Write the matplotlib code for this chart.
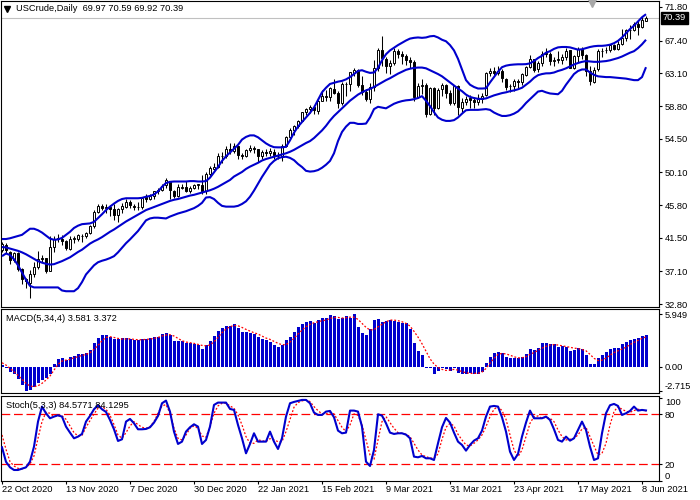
import matplotlib
matplotlib.use("Agg")
import matplotlib.pyplot as plt
import matplotlib.transforms as mtransforms
from matplotlib.lines import Line2D

plt.rcParams['font.family'] = ['Liberation Sans', 'DejaVu Sans']

# ---------------- data ----------------
date_labels = ["22 Oct 2020", "13 Nov 2020", "7 Dec 2020", "30 Dec 2020", "22 Jan 2021",
               "15 Feb 2021", "9 Mar 2021", "31 Mar 2021", "23 Apr 2021", "17 May 2021", "8 Jun 2021"]
date_label_bars = [0, 16, 32, 48, 64, 80, 96, 112, 128, 144, 160]

opens = [39.9, 40.6, 39.7, 38.6, 39.5, 37.4, 36.1, 35.6, 36.8, 37.7,
         38.8, 38.8, 37.2, 40.3, 41.4, 41.4, 41.1, 40.1, 41.3, 41.4,
         41.8, 41.7, 42.2, 43.1, 44.9, 45.7, 45.4, 45.5, 45.3, 44.5,
         45.3, 45.6, 46.2, 45.7, 45.6, 45.5, 46.8, 46.6, 47.0, 47.6,
         47.8, 48.4, 49.0, 47.7, 47.0, 48.1, 48.2, 47.6, 48.0, 48.4,
         48.5, 47.6, 49.9, 50.6, 50.8, 52.2, 52.2, 53.2, 52.9, 53.6,
         52.4, 52.3, 53.0, 53.3, 53.1, 52.3, 52.8, 52.6, 52.8, 52.3,
         52.2, 53.6, 54.8, 55.7, 56.2, 56.9, 58.0, 58.4, 58.7, 58.2,
         59.5, 60.1, 60.0, 61.1, 60.5, 59.2, 61.7, 61.7, 63.2, 63.5,
         61.5, 60.6, 59.7, 61.3, 63.8, 66.1, 65.0, 64.0, 64.4, 66.0,
         65.6, 65.4, 64.8, 64.6, 60.0, 61.4, 61.5, 57.8, 61.2, 58.6,
         61.0, 61.5, 60.5, 59.2, 61.4, 58.6, 59.3, 59.8, 59.6, 59.3,
         59.7, 60.2, 63.2, 63.4, 63.1, 63.4, 62.4, 61.4, 61.4, 62.1,
         61.9, 62.9, 63.9, 65.0, 63.6, 64.5, 65.7, 65.6, 64.7, 64.9,
         64.9, 65.3, 66.1, 63.8, 65.4, 66.3, 65.5, 63.4, 62.0, 63.6,
         66.0, 66.1, 66.2, 66.8, 66.3, 66.9, 67.7, 68.8, 68.8, 69.6,
         69.2, 69.97]
highs = [40.9, 40.8, 39.8, 39.7, 39.6, 37.6, 36.3, 37.3, 38.3, 39.8,
         39.2, 38.9, 41.8, 41.7, 42.0, 41.9, 41.2, 41.8, 41.8, 42.0,
         42.0, 42.3, 43.2, 45.2, 46.0, 45.9, 46.0, 45.8, 46.0, 45.4,
         46.1, 46.6, 46.5, 45.9, 46.2, 46.9, 47.3, 47.3, 47.7, 48.0,
         48.6, 49.3, 49.0, 47.8, 48.6, 48.6, 48.9, 48.3, 48.6, 48.6,
         49.8, 50.2, 50.9, 51.3, 52.7, 52.8, 53.5, 53.9, 53.9, 53.6,
         52.6, 53.2, 53.7, 53.6, 53.2, 53.0, 53.1, 53.3, 53.1, 52.8,
         53.8, 54.9, 55.9, 56.3, 57.0, 58.0, 58.6, 58.9, 58.9, 59.8,
         60.9, 60.9, 61.3, 62.3, 60.8, 61.9, 62.0, 63.3, 63.8, 63.7,
         62.8, 61.0, 61.8, 64.9, 66.4, 67.98, 65.3, 64.8, 66.4, 66.3,
         66.0, 65.6, 65.3, 64.8, 61.8, 62.3, 61.8, 61.3, 61.3, 61.2,
         61.8, 61.7, 60.9, 61.6, 61.5, 59.8, 60.1, 60.2, 60.0, 60.4,
         60.5, 63.3, 63.8, 63.9, 64.0, 63.7, 62.5, 61.7, 62.3, 62.3,
         63.1, 64.0, 65.5, 65.0, 64.7, 66.0, 66.4, 65.9, 65.2, 66.0,
         65.6, 66.4, 66.1, 65.5, 66.5, 66.5, 65.6, 64.1, 63.9, 66.3,
         66.4, 66.6, 67.0, 67.0, 67.4, 68.9, 68.9, 69.4, 69.8, 70.0,
         70.5, 70.59]
lows = [39.6, 39.5, 38.1, 38.4, 37.2, 35.4, 34.9, 33.6, 36.4, 37.4,
        38.3, 36.9, 37.1, 39.6, 41.0, 40.6, 39.9, 39.9, 40.8, 41.1,
        40.9, 41.5, 42.0, 42.8, 44.7, 45.1, 44.8, 44.4, 43.8, 43.6,
        44.8, 45.4, 45.4, 45.1, 45.1, 45.3, 46.2, 46.5, 46.6, 47.2,
        47.7, 48.0, 46.6, 46.7, 46.9, 47.9, 47.5, 47.4, 47.9, 47.9,
        47.2, 47.2, 49.5, 50.4, 50.7, 51.3, 52.0, 52.5, 52.6, 51.9,
        51.9, 52.1, 52.8, 52.6, 51.5, 51.8, 52.2, 52.3, 51.8, 51.8,
        51.6, 53.4, 54.5, 55.0, 55.9, 56.8, 57.6, 57.9, 57.7, 57.8,
        59.4, 59.5, 59.5, 60.4, 58.6, 58.9, 60.1, 60.8, 62.7, 61.3,
        60.2, 59.5, 59.2, 60.8, 63.4, 64.0, 63.1, 63.0, 64.2, 65.1,
        64.3, 64.2, 63.8, 59.5, 59.8, 60.4, 57.3, 57.6, 57.6, 58.4,
        60.1, 59.9, 58.9, 58.9, 57.6, 58.0, 58.9, 58.6, 58.6, 58.9,
        59.2, 60.1, 62.8, 62.9, 62.9, 61.9, 60.9, 60.7, 60.8, 61.0,
        61.6, 62.7, 63.8, 63.3, 63.3, 64.1, 65.2, 64.2, 64.0, 64.5,
        64.3, 64.8, 63.8, 63.6, 64.6, 65.0, 62.8, 61.6, 61.8, 63.4,
        65.3, 65.7, 65.9, 66.1, 66.1, 66.8, 67.4, 67.6, 68.7, 68.1,
        69.0, 69.92]
closes = [40.64, 39.85, 38.56, 39.57, 37.39, 36.17, 35.79, 36.81, 37.66, 38.79,
          38.79, 37.14, 40.29, 41.36, 41.45, 41.12, 40.13, 41.34, 41.43, 41.82,
          41.74, 42.15, 43.06, 44.91, 45.71, 45.40, 45.53, 45.34, 44.55, 45.28,
          45.64, 46.26, 45.76, 45.60, 45.52, 46.78, 46.57, 46.99, 47.62, 47.82,
          48.36, 49.10, 47.74, 47.02, 48.12, 48.23, 47.62, 48.00, 48.40, 48.52,
          47.62, 49.93, 50.63, 50.83, 52.24, 52.25, 53.21, 52.91, 53.57, 52.36,
          52.30, 52.98, 53.31, 53.13, 52.27, 52.77, 52.61, 52.85, 52.34, 52.20,
          53.55, 54.76, 55.69, 56.23, 56.85, 57.97, 58.36, 58.68, 58.24, 59.47,
          60.10, 60.05, 61.14, 60.52, 59.24, 61.70, 61.67, 63.22, 63.53, 61.50,
          60.64, 59.75, 61.28, 63.83, 66.09, 65.05, 64.01, 64.44, 66.02, 65.61,
          65.39, 64.80, 64.60, 60.00, 61.42, 61.55, 57.76, 61.18, 58.56, 60.97,
          61.56, 60.55, 59.16, 61.45, 58.65, 59.33, 59.77, 59.60, 59.32, 59.70,
          60.18, 63.15, 63.46, 63.13, 63.38, 62.44, 61.35, 61.43, 62.14, 61.91,
          62.94, 63.86, 65.01, 63.58, 64.49, 65.69, 65.63, 64.71, 64.90, 64.92,
          65.28, 66.08, 63.82, 65.37, 66.27, 65.49, 63.36, 62.05, 63.58, 66.05,
          66.07, 66.21, 66.85, 66.32, 66.90, 67.72, 68.83, 68.81, 69.62, 69.23,
          70.05, 70.39]

bb_upper = [41.35, 41.35, 41.45, 41.6, 41.75, 41.9, 42.3, 42.7, 42.7, 42.5,
            42.2, 41.8, 41.4, 41.25, 41.3, 41.5, 41.9, 42.3, 42.8, 43.1,
            43.3, 43.35, 43.4, 43.6, 44.1, 44.6, 45.15, 45.6, 46.0, 46.35,
            46.6, 46.7, 46.7, 46.7, 46.7, 46.75, 46.9, 47.0, 47.2, 47.6,
            48.2, 48.7, 48.85, 48.9, 48.9, 48.9, 48.9, 48.95, 48.95, 48.9,
            48.9, 48.95, 49.4, 50.1, 50.8, 51.6, 52.2, 52.7, 53.2, 53.7,
            54.4, 54.75, 54.95, 54.95, 54.7, 54.3, 53.9, 53.6, 53.4, 53.38,
            53.38, 53.45, 54.3, 55.3, 56.1, 56.7, 57.3, 57.9, 58.6, 59.6,
            60.6, 61.2, 61.7, 61.85, 62.0, 62.1, 62.3, 62.6, 63.0, 63.4,
            63.5, 63.3, 63.15, 63.2, 63.8, 64.8, 65.6, 66.1, 66.45, 66.8,
            67.1, 67.4, 67.65, 67.75, 67.8, 67.75, 67.8, 67.95, 68.0, 67.8,
            67.5, 67.3, 66.8, 66.1, 65.0, 63.6, 62.2, 61.6, 61.3, 61.1,
            61.1, 61.13, 61.9, 62.6, 63.3, 63.9, 64.1, 64.2, 64.25, 64.28,
            64.28, 64.3, 64.4, 64.7, 65.1, 65.4, 65.8, 66.0, 66.3, 66.5,
            66.55, 66.55, 66.5, 66.35, 66.2, 66.25, 66.4, 66.55, 66.65, 66.7,
            66.7, 66.75, 66.85, 67.05, 67.35, 67.8, 68.35, 68.9, 69.35, 69.9,
            70.45, 70.85]
bb_middle = [40.3, 40.25, 40.1, 39.95, 39.8, 39.6, 39.35, 39.05, 38.75, 38.45,
             38.25, 38.1, 38.0, 38.05, 38.25, 38.45, 38.7, 38.95, 39.3, 39.65,
             39.95, 40.35, 40.75, 41.05, 41.3, 41.6, 41.95, 42.3, 42.6, 42.95,
             43.3, 43.65, 43.95, 44.25, 44.55, 44.85, 45.15, 45.35, 45.55, 45.75,
             45.95, 46.15, 46.35, 46.5, 46.6, 46.75, 46.9, 47.05, 47.15, 47.3,
             47.45, 47.6, 47.75, 47.95, 48.2, 48.5, 48.8, 49.1, 49.55, 49.85,
             50.15, 50.55, 50.85, 51.1, 51.35, 51.65, 51.85, 52.0, 52.15, 52.3,
             52.45, 52.6, 52.8, 53.05, 53.35, 53.65, 53.95, 54.2, 54.6, 55.1,
             55.6, 56.2, 56.9, 57.5, 58.0, 58.5, 59.0, 59.5, 59.9, 60.3,
             60.6, 60.85, 61.05, 61.3, 61.6, 61.9, 62.2, 62.45, 62.75, 63.05,
             63.3, 63.55, 63.7, 63.8, 63.85, 63.85, 63.75, 63.5, 63.25, 63.0,
             62.7, 62.3, 61.9, 61.5, 61.1, 60.75, 60.3, 60.0, 59.85, 59.75,
             59.73, 59.8, 60.0, 60.2, 60.35, 60.5, 60.6, 60.75, 60.85, 61.0,
             61.2, 61.6, 62.0, 62.5, 62.85, 63.0, 63.09, 63.1, 63.2, 63.4,
             63.55, 63.75, 64.0, 64.25, 64.45, 64.6, 64.7, 64.65, 64.6, 64.6,
             64.65, 64.7, 64.8, 64.95, 65.1, 65.3, 65.55, 65.8, 66.0, 66.4,
             66.9, 67.5]
bb_lower = [39.1, 39.45, 39.25, 38.7, 37.9, 36.95, 36.0, 35.2, 35.0, 35.0,
            35.0, 35.0, 35.0, 35.0, 35.0, 34.6, 34.5, 34.5, 34.5, 34.9,
            35.7, 36.7, 37.3, 37.9, 38.3, 38.5, 38.65, 38.85, 39.1, 39.6,
            40.2, 40.8, 41.3, 41.85, 42.4, 43.1, 43.8, 44.05, 44.15, 44.15,
            44.1, 44.05, 44.3, 44.5, 44.7, 44.85, 45.0, 45.2, 45.4, 45.7,
            46.1, 46.8, 46.85, 46.6, 46.1, 45.7, 45.6, 45.6, 45.6, 45.7,
            45.95, 46.3, 46.9, 47.7, 48.6, 49.5, 50.3, 51.1, 51.6, 51.95,
            52.1, 52.15, 52.0, 51.7, 51.2, 50.8, 50.3, 50.2, 50.25, 50.4,
            50.7, 51.1, 51.6, 52.6, 54.2, 55.4, 56.1, 56.6, 56.6, 56.45,
            56.45, 56.5, 57.3, 58.4, 58.7, 58.6, 58.5, 58.8, 59.1, 59.3,
            59.45, 59.55, 59.6, 59.7, 59.85, 60.1, 59.5, 58.8, 58.0, 57.3,
            57.0, 56.85, 56.85, 56.95, 57.3, 57.8, 58.25, 58.3, 58.3, 58.3,
            58.35, 58.4, 58.3, 57.95, 57.7, 57.5, 57.5, 57.6, 57.8, 58.1,
            58.6, 59.2, 59.7, 60.2, 60.7, 60.8, 60.6, 60.45, 60.4, 60.35,
            60.8, 61.6, 62.3, 63.0, 63.4, 63.6, 63.6, 63.2, 62.9, 62.7,
            62.65, 62.6, 62.6, 62.55, 62.5, 62.45, 62.4, 62.3, 62.2, 62.2,
            62.6, 63.9]

macd_hist = [0.19, -0.11, -0.56, -0.83, -1.39, -2.07, -2.71, -2.64, -2.26, -1.88,
             -1.51, -1.32, -0.83, 0.30, 0.83, 0.94, 0.75, 1.05, 1.21, 1.39,
             1.43, 1.51, 1.88, 2.71, 3.20, 3.54, 3.58, 3.39, 3.13, 3.09,
             3.20, 3.20, 3.13, 3.01, 3.01, 3.13, 3.13, 3.20, 3.31, 3.39,
             3.65, 3.84, 3.58, 2.94, 2.94, 2.94, 2.71, 2.64, 2.56, 2.45,
             2.00, 2.45, 2.94, 3.47, 4.03, 4.33, 4.60, 4.63, 4.78, 4.41,
             3.88, 3.88, 3.84, 3.65, 3.31, 3.13, 3.01, 2.82, 2.45, 2.26,
             2.45, 3.01, 3.39, 3.88, 4.44, 4.82, 5.01, 5.12, 4.97, 5.27,
             5.46, 5.46, 5.90, 5.72, 5.35, 5.46, 5.76, 5.46, 5.949, 4.52,
             3.77, 3.58, 4.22, 5.27, 5.35, 5.08, 5.20, 5.27, 5.20, 5.08,
             4.90, 4.90, 4.22, 2.64, 1.81, 1.32, -0.11, -0.19, -0.83, -0.45,
             -0.19, -0.23, -0.45, -0.11, -0.68, -0.83, -0.83, -0.75, -0.83, -0.83,
             -0.56, 0.38, 1.13, 1.58, 1.70, 1.58, 1.05, 0.94, 0.94, 0.94,
             1.13, 1.43, 1.96, 1.88, 2.07, 2.64, 2.64, 2.56, 2.56, 2.26,
             2.34, 2.26, 1.81, 1.88, 2.15, 1.96, 1.32, 0.30, 0.30, 0.94,
             1.32, 1.62, 1.96, 2.07, 2.07, 2.52, 2.82, 3.05, 3.15, 3.30,
             3.42, 3.581]
macd_signal = [0.45, 0.19, -0.19, -0.56, -0.98, -1.43, -1.88, -2.18, -2.26, -2.15,
               -1.88, -1.51, -1.05, -0.38, 0.26, 0.64, 0.75, 0.83, 1.02, 1.13,
               1.28, 1.39, 1.58, 1.96, 2.41, 2.94, 3.31, 3.39, 3.31, 3.20,
               3.13, 3.13, 3.16, 3.09, 3.05, 3.05, 3.09, 3.13, 3.20, 3.31,
               3.47, 3.58, 3.62, 3.47, 3.20, 2.94, 2.79, 2.71, 2.64, 2.52,
               2.41, 2.37, 2.45, 2.82, 3.31, 3.84, 4.26, 4.52, 4.67, 4.63,
               4.44, 4.22, 4.03, 3.84, 3.69, 3.47, 3.24, 3.09, 2.86, 2.64,
               2.49, 2.49, 2.79, 3.20, 3.69, 4.14, 4.52, 4.78, 4.97, 5.08,
               5.20, 5.27, 5.46, 5.57, 5.57, 5.50, 5.54, 5.60, 5.60, 5.35,
               4.90, 4.45, 4.15, 4.20, 4.50, 4.80, 5.08, 5.27, 5.27, 5.20,
               5.08, 4.90, 4.60, 4.00, 3.35, 2.60, 1.75, 0.90, 0.30, -0.08,
               -0.30, -0.42, -0.38, -0.30, -0.38, -0.56, -0.68, -0.75, -0.75, -0.75,
               -0.60, -0.20, 0.40, 0.95, 1.40, 1.50, 1.45, 1.30, 1.13, 1.00,
               1.02, 1.13, 1.40, 1.60, 1.85, 2.10, 2.30, 2.45, 2.50, 2.45,
               2.37, 2.30, 2.20, 2.10, 2.05, 1.95, 1.80, 1.40, 0.95, 0.70,
               0.75, 0.98, 1.30, 1.60, 1.80, 2.00, 2.20, 2.50, 2.75, 2.98,
               3.20, 3.372]

stoch_main = [40.4, 23, 16.4, 13.2, 13.2, 14.8, 16.4, 23.2, 41.2, 71.2,
              89.2, 81.2, 75.2, 77.2, 78.8, 77.2, 65.2, 58, 51.2, 53.2,
              56.4, 71.2, 78, 86, 90.8, 86, 82.8, 73.2, 62, 48,
              50, 71.2, 74.4, 69.2, 62, 62, 62.4, 64.4, 70, 78,
              93.2, 96.4, 83.2, 59.2, 44.4, 47.2, 59.2, 64.4, 68, 65.2,
              44.4, 49.2, 65.2, 91.2, 94, 94, 94, 86.4, 85.2, 67.2,
              51.2, 33.2, 44.4, 57.2, 47.2, 47.2, 47.2, 59.2, 47.2, 38.4,
              51.2, 77.2, 93.2, 94.8, 96, 97.2, 97.2, 93.2, 82, 79.2,
              79.2, 83.2, 84, 76.4, 60.4, 57.2, 58, 84.4, 84.4, 83.2,
              65.2, 23.2, 18, 37.2, 80, 78.4, 69.2, 58, 56.4, 57.2,
              57.2, 55.6, 51.2, 29.2, 28.4, 30, 27.2, 27.2, 25.2, 45.2,
              64.4, 75.6, 70, 58, 47.2, 43.2, 36.4, 43.2, 48.4, 51.2,
              60.4, 77.2, 89.2, 90, 89.2, 76.4, 59.2, 35.2, 25.2, 32.4,
              53.2, 70, 84.4, 75.2, 75.2, 75.2, 77.2, 73.2, 62, 49.2,
              47.2, 53.2, 48.4, 51.2, 61.2, 71.2, 61.2, 41.2, 25.2, 27.2,
              57.2, 81.2, 90.8, 92.4, 90, 79.2, 81.2, 84, 89.2, 84.4,
              85.2, 84.5771]
stoch_signal = [55.2, 38, 23.2, 18, 15.2, 14.4, 16.4, 20.4, 30, 51.2,
                71.2, 82.4, 81.2, 77.2, 78, 78, 74, 66, 58, 54,
                54.8, 64.4, 72.4, 80.4, 87.2, 89.2, 86, 78.8, 67.6, 55.2,
                51.2, 58, 66, 71.2, 67.6, 64.4, 63.2, 65.2, 71.2, 81.2,
                90, 91.6, 81.2, 63.2, 51.2, 49.2, 55.2, 63.2, 66, 63.2,
                54, 52.4, 65.2, 81.2, 90, 93.2, 93.2, 90, 87.2, 79.2,
                67.2, 53.2, 45.2, 45.2, 49.2, 48.4, 47.2, 50.8, 49.2, 47.2,
                47.2, 59.2, 74, 88.4, 94, 96, 97.2, 95.2, 89.2, 84.4,
                80.4, 80.4, 82, 80.4, 72.4, 64.4, 59.2, 67.2, 80.4, 78.8,
                67.2, 49.2, 31.2, 26, 49.2, 71.2, 77.2, 70, 63.2, 58,
                57.2, 56, 53.2, 45.2, 37.2, 31.2, 29.2, 27.6, 27.2, 32.4,
                50, 64.4, 69.2, 66, 56, 49.2, 43.2, 42, 45.2, 49.2,
                55.2, 65.2, 77.2, 86, 89.2, 84.4, 74, 55.2, 37.2, 29.2,
                37.2, 53.2, 69.2, 77.2, 78, 75.2, 76.4, 75.2, 71.2, 61.2,
                53.2, 49.2, 50, 51.2, 55.2, 62.4, 64.4, 53.2, 42, 31.2,
                33.2, 45.2, 67.2, 83.2, 89.2, 86, 83.6, 82.4, 84.4, 86,
                85.2, 84.1295]

price_ticks = [71.80, 67.40, 63.10, 58.80, 54.50, 50.10, 45.80, 41.50, 37.10, 32.80]
macd_ticks = [5.949, 0.0, -2.715]
macd_tick_labels = ["5.949", "0.00", "-2.715"]
stoch_ticks = [100, 80, 20, 0]
stoch_levels = [80, 20]
last_price = 70.39
title_text = "USCrude,Daily  69.97 70.59 69.92 70.39"
macd_text = "MACD(5,34,4) 3.581 3.372"
stoch_text = "Stoch(5,3,3) 84.5771 84.1295"

# ---------------- layout ----------------
W, H = 700, 500
BLUE = '#0000CD'
FS = 6.7

fig = plt.figure(figsize=(7, 5), dpi=100)
fig.patch.set_facecolor('white')


def rect(x0, y0, x1, y1):
    return [x0 / W, 1 - y1 / H, (x1 - x0) / W, (y1 - y0) / H]


ax_p = fig.add_axes(rect(1, 0.5, 659, 306.7))
ax_m = fig.add_axes(rect(1, 309.3, 659, 393))
ax_s = fig.add_axes(rect(1, 396, 659, 481))

n = len(closes)
xs = list(range(n))

for ax in (ax_p, ax_m, ax_s):
    ax.set_xlim(-0.25, 164.25)
    ax.set_facecolor('white')
    for sp in ax.spines.values():
        sp.set_color('black')
        sp.set_linewidth(0.8)
    ax.yaxis.tick_right()
    ax.tick_params(axis='y', direction='out', length=2.2, width=0.8, pad=2,
                   labelsize=FS, colors='black')

# ---- price panel ----
ax_p.set_ylim(32.47, 72.65)
ax_p.axhline(last_price, color='#C0C0C0', lw=0.8, zorder=1)
ax_p.vlines(xs, lows, highs, color='black', lw=0.75, zorder=2)
up_x = [i for i in xs if closes[i] >= opens[i]]
dn_x = [i for i in xs if closes[i] < opens[i]]
ax_p.bar(up_x, [closes[i] - opens[i] for i in up_x], bottom=[opens[i] for i in up_x],
         width=0.5, facecolor='white', edgecolor='black', linewidth=0.7, zorder=3)
ax_p.bar(dn_x, [closes[i] - opens[i] for i in dn_x], bottom=[opens[i] for i in dn_x],
         width=0.5, facecolor='black', edgecolor='black', linewidth=0.7, zorder=3)
for band in (bb_upper, bb_middle, bb_lower):
    ax_p.plot(xs, band, color=BLUE, lw=1.5, zorder=4, solid_capstyle='butt')
ax_p.set_xticks([])
ax_p.set_yticks(price_ticks)
ax_p.set_yticklabels(['%.2f' % v for v in price_ticks])
trans_p = mtransforms.blended_transform_factory(ax_p.transAxes, ax_p.transData)
ax_p.text(1.006, last_price, '%.2f' % last_price, transform=trans_p, color='white',
          fontsize=FS, va='center', ha='left',
          bbox=dict(boxstyle='square,pad=0.18', fc='black', ec='black'), zorder=10,
          clip_on=False)
ax_p.plot([0.8975], [0.994], marker='v', ms=6.5, color='#A8A8A8',
          transform=ax_p.transAxes, clip_on=False, zorder=10)

# ---- MACD panel ----
ax_m.set_ylim(-2.97, 6.49)
ax_m.bar(xs, macd_hist, width=0.75, color=BLUE, linewidth=0, zorder=2)
ax_m.plot(xs, macd_signal, color='red', lw=0.9, ls=(0, (1.5, 1.5)), zorder=3)
ax_m.set_xticks([])
ax_m.set_yticks(macd_ticks)
ax_m.set_yticklabels(macd_tick_labels)
ax_m.get_yticklabels()[2].set_va('bottom')

# ---- Stochastic panel ----
ax_s.set_ylim(0, 101.9)
for lv in stoch_levels:
    ax_s.axhline(lv, color='red', lw=0.9, ls=(0, (7, 3)), zorder=1)
ax_s.plot(xs, stoch_signal, color='red', lw=0.9, ls=(0, (1.5, 1.5)), zorder=2)
ax_s.plot(xs, stoch_main, color=BLUE, lw=1.5, zorder=3)
ax_s.set_yticks(stoch_ticks)
ax_s.set_yticklabels([str(v) for v in stoch_ticks])
ax_s.get_yticklabels()[0].set_va('top')
ax_s.get_yticklabels()[3].set_va('bottom')
ax_s.set_xticks(date_label_bars)
ax_s.set_xticklabels(date_labels)
ax_s.tick_params(axis='x', direction='out', length=2, width=0.8, pad=1.2,
                 labelsize=FS, colors='black')
for lbl in ax_s.get_xticklabels():
    lbl.set_ha('left')

# ---- header texts ----
fig.add_artist(Line2D([7 / W], [1 - 8.5 / H], marker='v', ms=3.8, color='black',
                      transform=fig.transFigure))
fig.text(16 / W, 1 - 8.5 / H, title_text, fontsize=FS, va='center', ha='left', color='black')
fig.text(6 / W, 1 - 318.3 / H, macd_text, fontsize=FS, va='center', ha='left', color='black')
fig.text(6 / W, 1 - 405.7 / H, stoch_text, fontsize=FS, va='center', ha='left', color='black')

fig.savefig('out.png', dpi=100, facecolor='white')
